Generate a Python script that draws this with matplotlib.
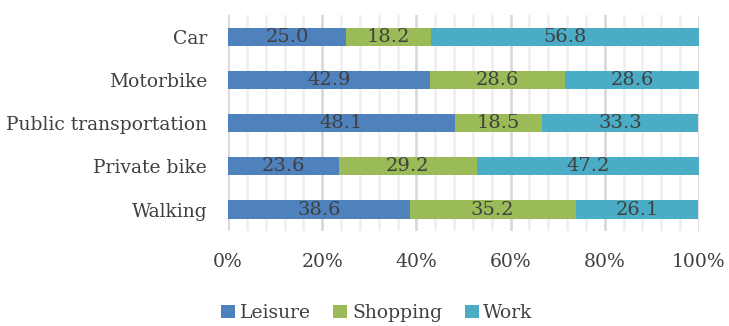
import numpy as np
import matplotlib.pyplot as plt
from matplotlib.ticker import MultipleLocator, FuncFormatter

# Trip purpose share by transport mode (%)
modes = ['Car', 'Motorbike', 'Public transportation', 'Private bike', 'Walking']
leisure = [25.0, 42.9, 48.1, 23.6, 38.6]
shopping = [18.2, 28.6, 18.5, 29.2, 35.2]
work = [56.8, 28.6, 33.3, 47.2, 26.1]

series = [('Leisure', leisure, '#4f81bd'),
          ('Shopping', shopping, '#9bbb59'),
          ('Work', work, '#4bacc6')]

plt.rcParams['font.family'] = ['DejaVu Serif']
text_col = '#404040'

fig = plt.figure(figsize=(7.29, 3.26), dpi=100)
ax = fig.add_axes([0.3128, 0.291, 0.6460, 0.663])

y = np.arange(len(modes))[::-1]
left = np.zeros(len(modes))
for name, vals, col in series:
    vals = np.array(vals)
    ax.barh(y, vals, left=left, height=0.42, color=col, label=name, zorder=3)
    for yi, l, v in zip(y, left, vals):
        ax.text(l + v / 2, yi, f'{v:.1f}', ha='center', va='center',
                fontsize=14, color=text_col, zorder=4)
    left += vals

ax.set_xlim(0, 100)
ax.set_ylim(-0.5, len(modes) - 0.5)
ax.set_yticks(y)
ax.set_yticklabels(modes, fontsize=13.5, color=text_col)
ax.xaxis.set_major_locator(MultipleLocator(20))
ax.xaxis.set_minor_locator(MultipleLocator(4))
ax.xaxis.set_major_formatter(FuncFormatter(lambda v, p: f'{v:.0f}%'))
ax.tick_params(axis='x', which='major', labelsize=13.5, labelcolor=text_col,
               length=0, pad=16)
ax.tick_params(axis='x', which='minor', length=0)
ax.tick_params(axis='y', length=0, pad=15)

ax.grid(axis='x', which='major', color='#d9d9d9', linewidth=2, zorder=0)
ax.grid(axis='x', which='minor', color='#f0f0f0', linewidth=2, zorder=0)
for s in ax.spines.values():
    s.set_visible(False)

handles, labels = ax.get_legend_handles_labels()
fig.legend(handles, labels, loc='center', bbox_to_anchor=(0.517, 0.04),
           ncol=3, frameon=False, fontsize=13.5, labelcolor=text_col,
           handlelength=0.75, handleheight=0.75, handletextpad=0.25,
           columnspacing=1.2)

plt.savefig('out.png', dpi=100)
